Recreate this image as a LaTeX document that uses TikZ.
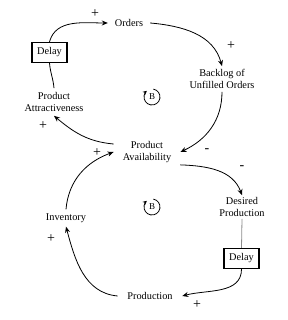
\documentclass[tikz,border=0pt]{standalone}
\usepackage{fontspec}
\setmainfont{Liberation Serif}
\usetikzlibrary{arrows.meta}
\begin{document}
\begin{tikzpicture}[x=1pt,y=1pt,
  lbl/.style={align=center, font=\fontsize{10.3}{12}\selectfont, inner sep=2pt},
  delaybox/.style={draw, line width=1.3pt, minimum width=35pt, minimum height=20pt, inner sep=1pt, font=\fontsize{10.3}{12}\selectfont},
  link/.style={line width=0.8pt, -{Stealth[length=6pt,width=5pt]}},
  plain/.style={line width=0.8pt},
  sign/.style={font=\fontsize{14}{14}\selectfont, inner sep=0pt},
  loopsym/.style={circle, minimum size=16pt, inner sep=0pt, font=\fontsize{9}{9}\selectfont},
  looparc/.style={line width=0.8pt, -{Stealth[length=4pt,width=4pt]}}
]
\useasboundingbox (0,0) rectangle (288,320);

% nodes
\node[lbl, inner xsep=7pt] (orders) at (129,297) {Orders};
\node[delaybox] (delay1) at (49.5,267.5) {Delay};
\node[lbl, inner ysep=4pt] (attr) at (54,218) {Product\\Attractiveness};
\node[lbl, inner ysep=3pt] (backlog) at (222,241) {Backlog of\\Unfilled Orders};
\node[lbl, inner xsep=9pt] (avail) at (147,168) {Product\\Availability};
\node[lbl] (desired) at (242,113) {Desired\\Production};
\node[delaybox] (delay2) at (241.5,61.5) {Delay};
\node[lbl, inner xsep=9.5pt] (production) at (150,24) {Production};
\node[lbl, inner ysep=4pt] (inventory) at (66,102) {Inventory};
\node[loopsym] (b1) at (152,223) {B};
\node[loopsym] (b2) at (152,113) {B};

% loop symbols
\draw[looparc] ([shift={(80:8pt)}]b1.center) arc[start angle=80, end angle=-230, radius=8pt];
\draw[looparc] ([shift={(80:8pt)}]b2.center) arc[start angle=80, end angle=-230, radius=8pt];

% connectors
\draw[link] (delay1.north) to[out=75, in=180] (orders.west);
\draw[link] (orders.east) to[out=-5, in=105] (backlog.north);
\draw[link] (backlog.south) to[out=-90, in=25] (avail.east);
\draw[link] ([yshift=8pt]avail.west) to[out=175, in=-40] (attr.south);
\draw[plain] (delay1.south) to[out=-85, in=95] (attr.north);
\draw[link] (avail.south east) to[out=-2, in=110] (desired.north);
\draw[plain, draw=black!45] (desired.south) -- (delay2.north);
\draw[link] (delay2.south) to[out=-90, in=15] (production.east);
\draw[link] (production.west) to[out=175, in=-75] (inventory.south);
\draw[link] (inventory.north) to[out=85, in=200] (avail.west);

% polarity signs
\node[sign] (s1) at (95,306) {+};
\node[sign] (s2) at (231,274) {+};
\node[sign] (s3) at (207,169) {-};
\node[sign] (s4) at (43,194) {+};
\node[sign] (s5) at (97,167) {+};
\node[sign] (s6) at (242,152) {-};
\node[sign] (s7) at (197,15) {+};
\node[sign] (s8) at (51,81) {+};
\end{tikzpicture}
\end{document}
